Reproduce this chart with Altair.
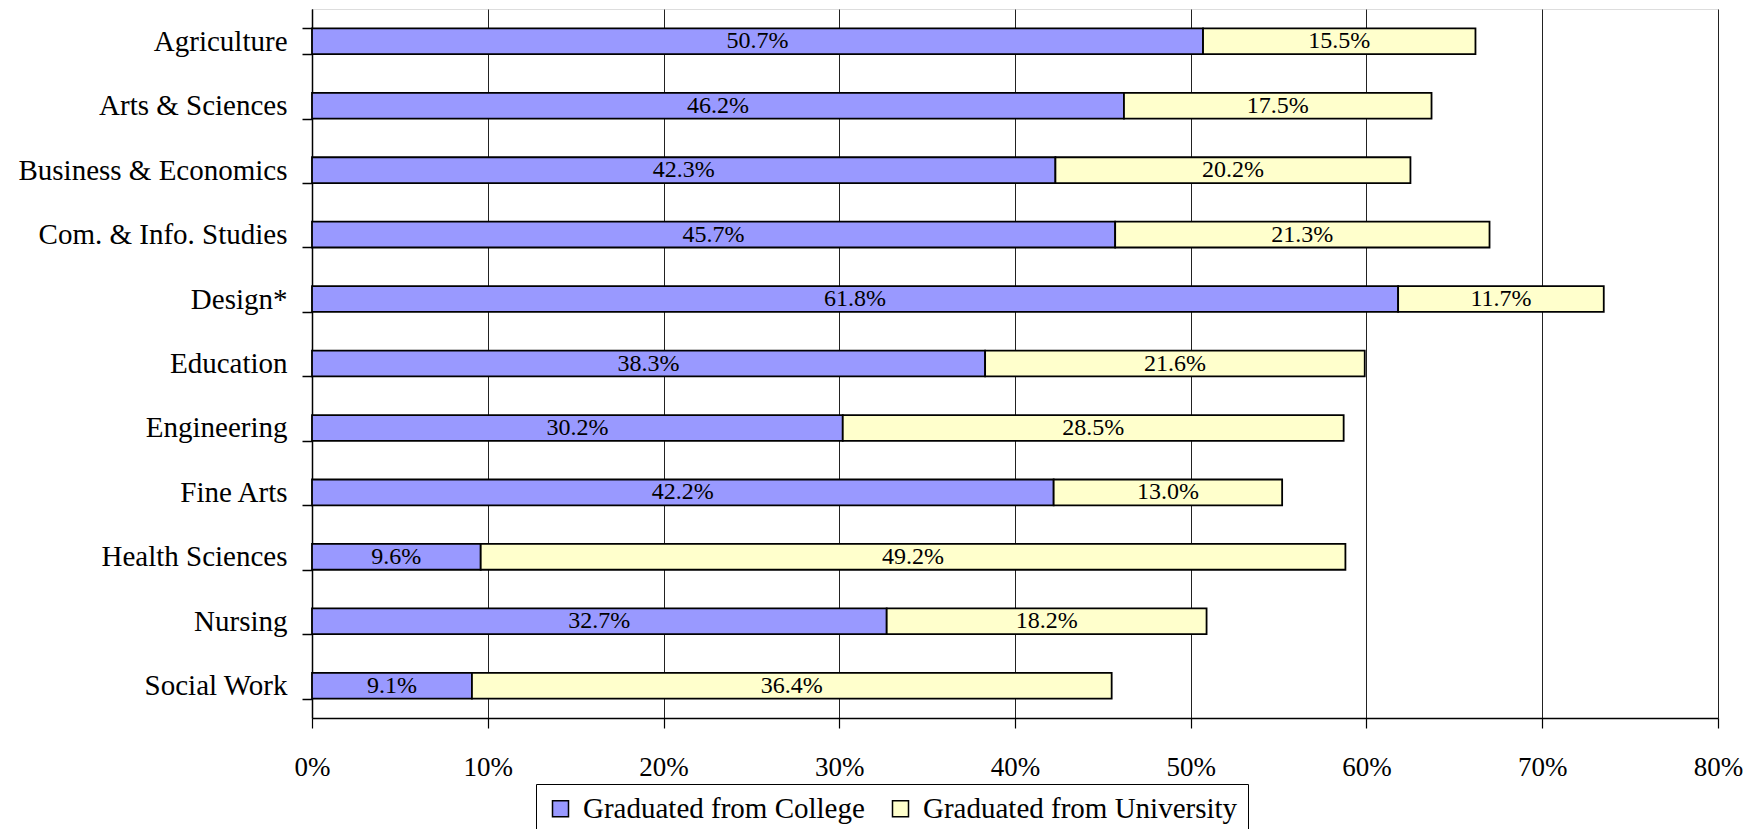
import altair as alt
import pandas as pd

categories = ["Agriculture", "Arts & Sciences", "Business & Economics", "Com. & Info. Studies",
              "Design*", "Education", "Engineering", "Fine Arts", "Health Sciences",
              "Nursing", "Social Work"]
college = [50.7, 46.2, 42.3, 45.7, 61.8, 38.3, 30.2, 42.2, 9.6, 32.7, 9.1]
university = [15.5, 17.5, 20.2, 21.3, 11.7, 21.6, 28.5, 13.0, 49.2, 18.2, 36.4]
series = ["Graduated from College", "Graduated from University"]
colors = ["#9999FF", "#FFFFCC"]

rows = []
for i, c in enumerate(categories):
    rows.append({"category": c, "series": series[0], "order": 0, "value": college[i] / 100})
    rows.append({"category": c, "series": series[1], "order": 1, "value": university[i] / 100})
df = pd.DataFrame(rows)

FONT = "Liberation Serif"

base = alt.Chart(df).transform_stack(
    stack="value", groupby=["category"], as_=["x0", "x1"],
    sort=[alt.SortField("order", order="ascending")]
).transform_calculate(mid="(datum.x0 + datum.x1) / 2")

y_enc = alt.Y("category:N", sort=categories, title=None,
              scale=alt.Scale(paddingInner=0.6, paddingOuter=0.3),
              axis=alt.Axis(tickBand="extent", domainColor="black", tickColor="black",
                            tickSize=10, labelFontSize=29, labelFont=FONT, labelColor="black",
                            labelPadding=15, grid=False, domainWidth=1.5, tickWidth=1.5,
                            labelLimit=400))

bars = base.mark_bar(stroke="black", strokeWidth=1.8).encode(
    x=alt.X("x0:Q", title=None, scale=alt.Scale(domain=[0, 0.8], nice=False),
            axis=alt.Axis(format=".0%", values=[0, 0.1, 0.2, 0.3, 0.4, 0.5, 0.6, 0.7, 0.8],
                          grid=True, gridColor="#222222", gridWidth=1, domainColor="black",
                          domainWidth=1.5, tickColor="black", tickSize=10, tickWidth=1.2,
                          labelFontSize=27, labelFont=FONT, labelColor="black",
                          labelPadding=26, labelFlush=False)),
    x2="x1:Q",
    y=y_enc,
    color=alt.Color("series:N", scale=alt.Scale(domain=series, range=colors), title=None,
                    legend=alt.Legend(orient="none", legendX=224, legendY=775, direction="horizontal",
                                      strokeColor="black", padding=10, fillColor="white",
                                      labelFont=FONT, labelFontSize=29, labelColor="black",
                                      symbolType="square", symbolSize=256, symbolStrokeColor="black",
                                      symbolStrokeWidth=1.5, symbolOpacity=1, columnPadding=21,
                                      labelLimit=500, labelOffset=8)),
)

labels = base.mark_text(font=FONT, fontSize=24, color="black", baseline="middle", align="center").encode(
    x=alt.X("mid:Q"),
    y=alt.Y("category:N", sort=categories),
    text=alt.Text("value:Q", format=".1%"),
)

chart = alt.layer(bars, labels).properties(
    width=1406, height=709,
    autosize=alt.AutoSizeParams(type="none"),
    padding={"left": 304, "top": 1, "right": 32, "bottom": 111},
).configure_view(stroke="black", strokeWidth=1.5).configure(background="white")

chart.save("out.html", embed_options={"renderer": "svg", "actions": False})
